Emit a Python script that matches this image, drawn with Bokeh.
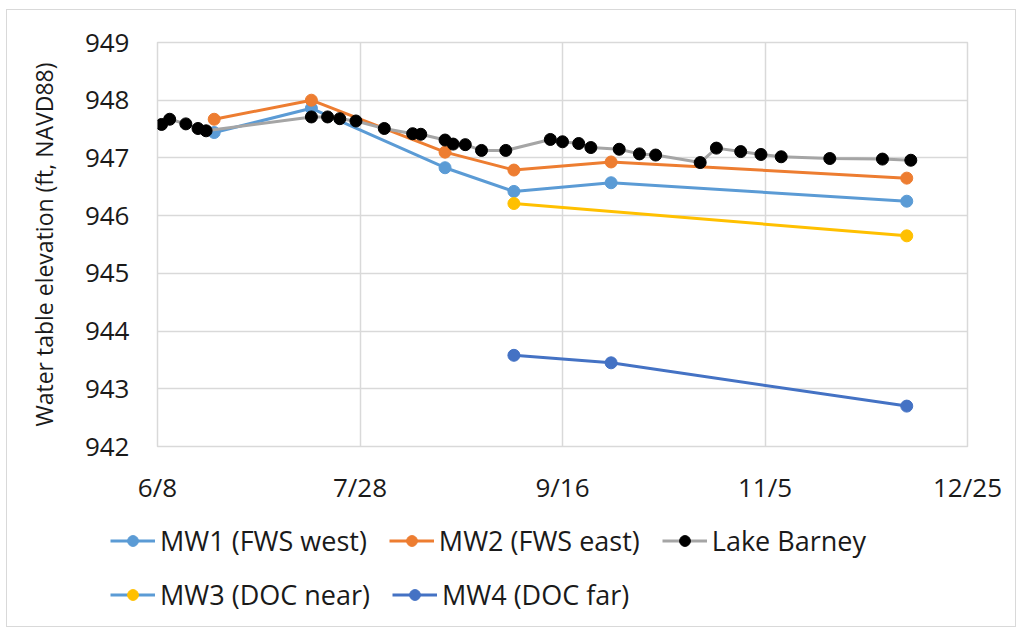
import pandas as pd
from bokeh.plotting import figure
from bokeh.layouts import column
from bokeh.models import FixedTicker, Legend, LegendItem, ColumnDataSource
from bokeh.embed import file_html
from bokeh.resources import INLINE

YEAR = 2021
START = "6/8"
tick_labels = ["6/8", "7/28", "9/16", "11/5", "12/25"]
y_ticks = [942, 943, 944, 945, 946, 947, 948, 949]

lake_dates = ["6/9", "6/11", "6/15", "6/18", "6/20", "7/16", "7/20", "7/23", "7/27",
              "8/3", "8/10", "8/12", "8/18", "8/20", "8/23", "8/27", "9/2", "9/13",
              "9/16", "9/20", "9/23", "9/30", "10/5", "10/9", "10/20", "10/24",
              "10/30", "11/4", "11/9", "11/21", "12/4", "12/11"]
lake_vals = [947.58, 947.67, 947.59, 947.51, 947.47, 947.71, 947.71, 947.68, 947.64,
             947.51, 947.42, 947.41, 947.31, 947.24, 947.23, 947.13, 947.13, 947.32,
             947.28, 947.25, 947.18, 947.15, 947.07, 947.05, 946.92, 947.17,
             947.11, 947.06, 947.02, 946.99, 946.98, 946.96]

mw12_dates = ["6/22", "7/16", "8/18", "9/4", "9/28", "12/10"]
mw1_vals = [947.44, 947.86, 946.83, 946.42, 946.57, 946.25]
mw2_vals = [947.67, 948.00, 947.10, 946.79, 946.93, 946.65]
mw3_dates = ["9/4", "12/10"]
mw3_vals = [946.21, 945.65]
mw4_dates = ["9/4", "9/28", "12/10"]
mw4_vals = [943.58, 943.45, 942.70]

start = pd.to_datetime(f"{YEAR}/{START}")


def days(dates):
    return [(pd.to_datetime(f"{YEAR}/{d}") - start).days for d in dates]


tick_days = days(tick_labels)

FONT = "Open Sans"
TXT = "#1a1a1a"
C_MW1 = "#5B9BD5"
C_MW2 = "#ED7D31"
C_LAKE = "#A5A5A5"
C_MW3 = "#FFC000"
C_MW4 = "#4472C4"
LW = 3
MS = 12
W = 1008

p = figure(width=W, height=510, output_backend="svg", toolbar_location=None,
           x_range=(tick_days[0], tick_days[-1]), y_range=(y_ticks[0], y_ticks[-1]),
           min_border_left=150, min_border_right=W - 150 - 810, min_border_top=32,
           min_border_bottom=74)
p.outline_line_color = "#d9d9d9"
p.outline_line_width = 1.5

p.xaxis.ticker = FixedTicker(ticks=tick_days)
p.xaxis.major_label_overrides = {d: l for d, l in zip(tick_days, tick_labels)}
p.yaxis.ticker = FixedTicker(ticks=y_ticks)
p.xgrid.ticker = FixedTicker(ticks=tick_days)
p.ygrid.ticker = FixedTicker(ticks=y_ticks)
for g in (p.xgrid, p.ygrid):
    g.grid_line_color = "#d9d9d9"
    g.grid_line_width = 1.5

for ax in (p.xaxis, p.yaxis):
    ax.axis_line_color = None
    ax.major_tick_line_color = None
    ax.minor_tick_line_color = None
    ax.major_tick_out = 0
    ax.major_tick_in = 0
    ax.major_label_text_font = FONT
    ax.major_label_text_font_size = "26px"
    ax.major_label_text_color = TXT
p.xaxis.major_label_standoff = 22
p.yaxis.major_label_standoff = 28
p.yaxis.axis_label = "Water table elevation (ft, NAVD88)"
p.yaxis.axis_label_text_font = FONT
p.yaxis.axis_label_text_font_size = "23px"
p.yaxis.axis_label_text_font_style = "normal"
p.yaxis.axis_label_text_color = TXT
p.yaxis.axis_label_standoff = 22


def series(fig, x, y, lc, mc):
    src = ColumnDataSource(dict(x=x, y=y))
    l = fig.line("x", "y", source=src, line_color=lc, line_width=LW)
    s = fig.scatter("x", "y", source=src, size=MS, fill_color=mc, line_color=mc)
    return [l, s]


series(p, days(mw12_dates), mw1_vals, C_MW1, C_MW1)
series(p, days(mw12_dates), mw2_vals, C_MW2, C_MW2)
series(p, days(lake_dates), lake_vals, C_LAKE, "black")
series(p, days(mw3_dates), mw3_vals, C_MW3, C_MW3)
series(p, days(mw4_dates), mw4_vals, C_MW4, C_MW4)

# legend area (separate panel below the chart)
lf = figure(width=W, height=106, output_backend="svg", toolbar_location=None,
            x_range=(0, 1), y_range=(0, 1), min_border=0)
lf.frame_align = False
lf.axis.visible = False
lf.grid.visible = False
lf.outline_line_color = None

NAN = [float("nan")]
k1 = series(lf, NAN, NAN, C_MW1, C_MW1)
k2 = series(lf, NAN, NAN, C_MW2, C_MW2)
kl = series(lf, NAN, NAN, C_LAKE, "black")
k3 = series(lf, NAN, NAN, C_MW1, C_MW3)  # original legend swatch: blue line, yellow dot
k4 = series(lf, NAN, NAN, C_MW4, C_MW4)


def mk_legend(items, loc):
    lg = Legend(items=items, location=loc, orientation="horizontal",
                label_text_font=FONT, label_text_font_size="27px", label_text_color=TXT,
                glyph_width=45, glyph_height=27, label_height=27, label_standoff=5,
                spacing=22, padding=0, margin=0, border_line_color=None,
                background_fill_alpha=0)
    lf.add_layout(lg)
    return lg


mk_legend([LegendItem(label="MW1 (FWS west)", renderers=k1),
           LegendItem(label="MW2 (FWS east)", renderers=k2),
           LegendItem(label="Lake Barney", renderers=kl)], (103, 67))
mk_legend([LegendItem(label="MW3 (DOC near)", renderers=k3),
           LegendItem(label="MW4 (DOC far)", renderers=k4)], (103, 13))

layout = column(p, lf, spacing=0,
                styles={"border": "1px solid #d9d9d9", "margin-left": "6px",
                        "margin-top": "9px"})

open("out.html", "w").write(file_html(layout, INLINE))
